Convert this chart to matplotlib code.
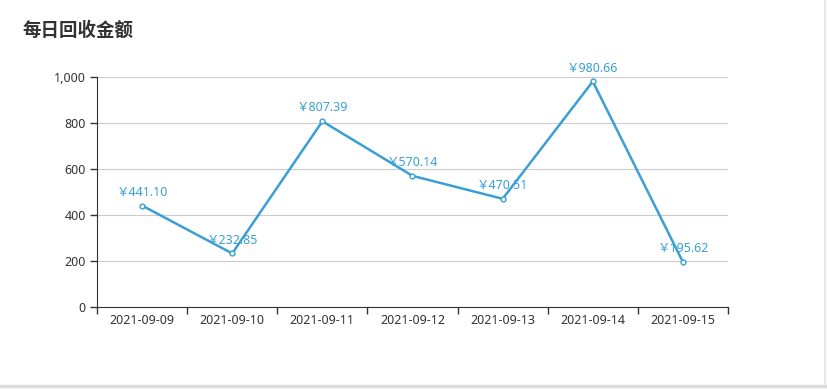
import matplotlib
matplotlib.use("Agg")
import matplotlib.pyplot as plt
from matplotlib.lines import Line2D

plt.rcParams['font.family'] = ['Noto Sans', 'Noto Sans CJK SC', 'DejaVu Sans']

# chart data
title = "每日回收金额"
dates = ["2021-09-09", "2021-09-10", "2021-09-11", "2021-09-12",
         "2021-09-13", "2021-09-14", "2021-09-15"]
amounts = [441.10, 232.85, 807.39, 570.14, 470.51, 980.66, 195.62]
y_ticks = [0, 200, 400, 600, 800, 1000]

line_color = "#3a9fd4"

fig = plt.figure(figsize=(8.28, 3.89), dpi=100)
ax = fig.add_axes([97 / 828, 1 - 307 / 389, (728 - 97) / 828, (307 - 77) / 389])

x = list(range(len(dates)))
ax.plot(x, amounts, color=line_color, linewidth=1.8, marker="o", markersize=3.5,
        markerfacecolor="white", markeredgecolor=line_color, markeredgewidth=1, zorder=3)

# value labels above each point
for xi, v in zip(x, amounts):
    ax.annotate(f"￥{v:.2f}", (xi, v), xytext=(0, 5), textcoords="offset points",
                ha="center", va="bottom", color=line_color, fontsize=9, zorder=4)

ax.set_xlim(-0.5, len(dates) - 0.5)
ax.set_ylim(0, 1000)

# category ticks on boundaries, labels centred
ax.set_xticks([i - 0.5 for i in range(len(dates) + 1)])
ax.set_xticklabels([])
ax.set_xticks(x, minor=True)
ax.set_xticklabels(dates, minor=True)
ax.tick_params(axis="x", which="major", length=5, width=1, color="#333333", direction="out")
ax.tick_params(axis="x", which="minor", length=0, pad=5, labelsize=9, labelcolor="#333333")

ax.set_yticks(y_ticks)
ax.set_yticklabels([f"{v:,}" for v in y_ticks])
ax.tick_params(axis="y", length=5, width=1, color="#333333", labelsize=9,
               labelcolor="#333333", pad=3)

ax.grid(axis="y", color="#cccccc", linewidth=0.8)
ax.set_axisbelow(True)
for side in ["top", "right"]:
    ax.spines[side].set_visible(False)
ax.spines["left"].set_color("#333333")
ax.spines["bottom"].set_color("#333333")

fig.text(22 / 828, 1 - 30 / 389, title, fontsize=13.3, fontweight="bold",
         color="#333333", ha="left", va="center", family=['Noto Sans CJK SC', 'DejaVu Sans'])

# light frame lines at the right and bottom edges
fig.add_artist(Line2D([825 / 828, 825 / 828], [3 / 389, 1], color="#e4e4e4", linewidth=1.2,
                      transform=fig.transFigure))
fig.add_artist(Line2D([0, 826 / 828], [3 / 389, 3 / 389], color="#dcdcdc", linewidth=2.5,
                      transform=fig.transFigure))

fig.savefig("out.png", dpi=100)
